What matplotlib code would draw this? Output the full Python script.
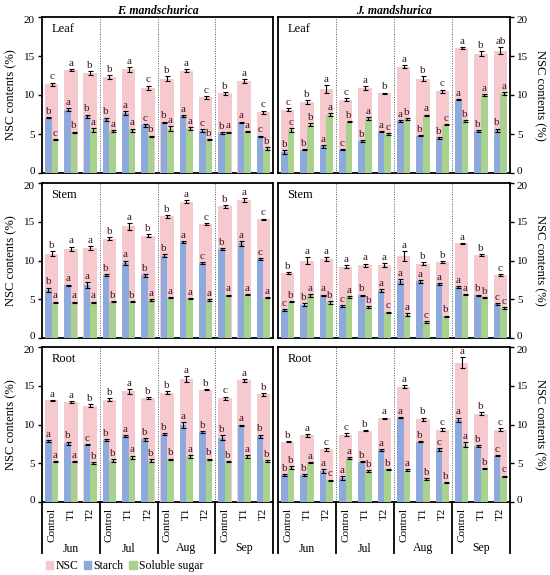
import numpy as np
from matplotlib import pyplot as plt
from matplotlib.patches import Patch
from matplotlib.transforms import ScaledTranslation

plt.rcParams['font.family'] = ['Liberation Serif', 'DejaVu Serif']

# x categories
treatments = ["Control", "T1", "T2"] * 4
months = ["Jun", "Jul", "Aug", "Sep"]
species = ["F. mandschurica", "J. mandshurica"]
organs = ["Leaf", "Stem", "Root"]

# ---- F. mandschurica, Leaf
f_leaf_nsc = [11.4, 13.2, 12.8, 12.3, 13.3, 10.9, 12.1, 13.1, 9.7, 10.2, 11.8, 7.8]
f_leaf_nsc_err = [0.2, 0.1, 0.3, 0.2, 0.3, 0.3, 0.3, 0.2, 0.2, 0.2, 0.2, 0.2]
f_leaf_nsc_let = ["c", "a", "b", "b", "a", "c", "b", "a", "c", "b", "a", "c"]
f_leaf_starch = [7.1, 8.1, 7.3, 6.9, 7.7, 6.1, 6.5, 7.3, 5.4, 5.1, 6.5, 4.7]
f_leaf_starch_err = [0.1, 0.2, 0.2, 0.2, 0.2, 0.2, 0.1, 0.1, 0.2, 0.1, 0.1, 0.1]
f_leaf_starch_let = ["b", "a", "b", "b", "a", "c", "b", "a", "c", "b", "a", "c"]
f_leaf_sugar = [4.3, 5.2, 5.5, 5.4, 5.5, 4.7, 5.7, 5.7, 4.3, 5.2, 5.3, 3.1]
f_leaf_sugar_err = [0.1, 0.1, 0.3, 0.1, 0.2, 0.1, 0.3, 0.2, 0.1, 0.1, 0.1, 0.2]
f_leaf_sugar_let = ["c", "b", "a", "a", "a", "b", "a", "a", "b", "a", "a", "b"]

# ---- F. mandschurica, Stem
f_stem_nsc = [10.9, 11.5, 11.6, 12.8, 14.4, 13.2, 15.7, 17.6, 14.7, 17.0, 17.8, 15.3]
f_stem_nsc_err = [0.3, 0.3, 0.3, 0.2, 0.4, 0.2, 0.2, 0.2, 0.1, 0.2, 0.3, 0.1]
f_stem_nsc_let = ["b", "a", "a", "b", "a", "b", "b", "a", "c", "b", "a", "c"]
f_stem_starch = [6.2, 6.8, 6.8, 8.1, 9.7, 8.1, 10.6, 12.4, 9.7, 11.5, 12.2, 10.2]
f_stem_starch_err = [0.3, 0.1, 0.4, 0.1, 0.3, 0.2, 0.2, 0.1, 0.1, 0.1, 0.3, 0.1]
f_stem_starch_let = ["b", "a", "a", "b", "a", "b", "b", "a", "c", "b", "a", "c"]
f_stem_sugar = [4.6, 4.6, 4.6, 4.7, 4.7, 4.9, 5.2, 5.1, 4.9, 5.5, 5.6, 5.2]
f_stem_sugar_err = [0.1, 0.1, 0.1, 0.1, 0.1, 0.1, 0.1, 0.1, 0.1, 0.1, 0.1, 0.1]
f_stem_sugar_let = ["a", "a", "a", "b", "b", "a", "a", "a", "a", "a", "a", "a"]

# ---- F. mandschurica, Root
f_root_nsc = [13.1, 12.9, 12.4, 13.2, 14.3, 13.4, 14.1, 15.9, 14.5, 13.4, 15.7, 13.9]
f_root_nsc_err = [0.1, 0.1, 0.2, 0.2, 0.3, 0.1, 0.2, 0.4, 0.1, 0.2, 0.2, 0.2]
f_root_nsc_let = ["a", "a", "b", "b", "a", "b", "b", "a", "b", "c", "a", "b"]
f_root_starch = [7.9, 7.6, 7.4, 8.0, 8.5, 8.1, 8.8, 9.9, 9.0, 8.3, 9.9, 8.5]
f_root_starch_err = [0.1, 0.2, 0.1, 0.1, 0.1, 0.2, 0.1, 0.4, 0.1, 0.3, 0.1, 0.2]
f_root_starch_let = ["a", "b", "c", "b", "a", "b", "b", "a", "b", "b", "a", "b"]
f_root_sugar = [5.2, 5.2, 5.0, 5.3, 5.8, 5.3, 5.5, 5.9, 5.5, 5.2, 5.9, 5.3]
f_root_sugar_err = [0.1, 0.1, 0.1, 0.2, 0.2, 0.2, 0.1, 0.2, 0.1, 0.1, 0.2, 0.1]
f_root_sugar_let = ["a", "a", "b", "b", "a", "b", "b", "a", "b", "b", "a", "b"]

# ---- J. mandshurica, Leaf
j_leaf_nsc = [8.1, 9.1, 10.8, 9.4, 10.9, 10.2, 13.6, 12.1, 10.5, 16.0, 15.3, 15.7]
j_leaf_nsc_err = [0.2, 0.2, 0.5, 0.2, 0.2, 0.1, 0.2, 0.3, 0.2, 0.1, 0.3, 0.4]
j_leaf_nsc_let = ["c", "b", "a", "c", "a", "b", "a", "b", "c", "a", "b", "ab"]
j_leaf_starch = [2.7, 3.0, 3.4, 3.0, 4.1, 5.3, 6.7, 4.8, 4.5, 9.4, 5.4, 5.5]
j_leaf_starch_err = [0.2, 0.1, 0.2, 0.1, 0.1, 0.1, 0.1, 0.1, 0.1, 0.1, 0.1, 0.2]
j_leaf_starch_let = ["b", "b", "a", "c", "b", "a", "a", "b", "b", "a", "b", "b"]
j_leaf_sugar = [5.5, 6.2, 7.5, 6.6, 7.0, 5.0, 6.9, 7.4, 6.2, 6.7, 10.0, 10.2]
j_leaf_sugar_err = [0.3, 0.2, 0.2, 0.1, 0.2, 0.1, 0.1, 0.1, 0.1, 0.1, 0.1, 0.2]
j_leaf_sugar_let = ["c", "b", "a", "b", "a", "c", "b", "a", "c", "b", "a", "a"]

# ---- J. mandshurica, Stem
j_stem_nsc = [8.4, 10.0, 10.2, 9.2, 9.4, 9.4, 10.6, 9.6, 9.8, 12.2, 10.7, 8.1]
j_stem_nsc_err = [0.1, 0.4, 0.2, 0.2, 0.2, 0.3, 0.6, 0.2, 0.1, 0.1, 0.1, 0.1]
j_stem_nsc_let = ["b", "a", "a", "a", "a", "a", "a", "b", "b", "a", "b", "c"]
j_stem_starch = [3.6, 4.3, 5.5, 4.1, 5.5, 6.1, 7.3, 7.3, 7.0, 6.6, 5.5, 4.4]
j_stem_starch_err = [0.1, 0.2, 0.1, 0.1, 0.1, 0.2, 0.3, 0.2, 0.1, 0.1, 0.1, 0.1]
j_stem_starch_let = ["c", "b", "a", "c", "b", "a", "a", "a", "a", "a", "b", "c"]
j_stem_sugar = [4.7, 5.5, 4.6, 5.3, 4.0, 3.3, 3.0, 2.1, 2.8, 5.6, 5.2, 3.9]
j_stem_sugar_err = [0.1, 0.2, 0.2, 0.1, 0.1, 0.1, 0.2, 0.1, 0.1, 0.1, 0.1, 0.1]
j_stem_sugar_let = ["b", "a", "b", "a", "b", "c", "a", "c", "b", "a", "b", "c"]

# ---- J. mandshurica, Root
j_root_nsc = [7.8, 8.6, 6.8, 8.7, 9.2, 10.8, 14.9, 10.7, 9.3, 18.0, 11.4, 9.3]
j_root_nsc_err = [0.1, 0.2, 0.2, 0.2, 0.1, 0.1, 0.2, 0.2, 0.2, 0.7, 0.2, 0.2]
j_root_nsc_let = ["b", "a", "c", "c", "b", "a", "a", "b", "c", "a", "b", "c"]
j_root_starch = [3.5, 3.5, 4.0, 3.1, 5.2, 6.7, 10.9, 7.8, 6.8, 10.6, 7.2, 6.0]
j_root_starch_err = [0.1, 0.1, 0.3, 0.2, 0.1, 0.1, 0.1, 0.1, 0.2, 0.3, 0.1, 0.1]
j_root_starch_let = ["b", "b", "a", "a", "b", "a", "a", "b", "c", "a", "b", "c"]
j_root_sugar = [4.4, 5.1, 2.8, 5.7, 4.0, 4.2, 4.1, 3.0, 2.5, 7.4, 4.3, 3.3]
j_root_sugar_err = [0.2, 0.1, 0.1, 0.1, 0.1, 0.1, 0.1, 0.1, 0.1, 0.3, 0.1, 0.1]
j_root_sugar_let = ["b", "a", "c", "a", "b", "b", "a", "b", "b", "a", "b", "c"]

panels = {
    (0, 0): (f_leaf_nsc, f_leaf_nsc_err, f_leaf_nsc_let, f_leaf_starch, f_leaf_starch_err,
             f_leaf_starch_let, f_leaf_sugar, f_leaf_sugar_err, f_leaf_sugar_let),
    (1, 0): (f_stem_nsc, f_stem_nsc_err, f_stem_nsc_let, f_stem_starch, f_stem_starch_err,
             f_stem_starch_let, f_stem_sugar, f_stem_sugar_err, f_stem_sugar_let),
    (2, 0): (f_root_nsc, f_root_nsc_err, f_root_nsc_let, f_root_starch, f_root_starch_err,
             f_root_starch_let, f_root_sugar, f_root_sugar_err, f_root_sugar_let),
    (0, 1): (j_leaf_nsc, j_leaf_nsc_err, j_leaf_nsc_let, j_leaf_starch, j_leaf_starch_err,
             j_leaf_starch_let, j_leaf_sugar, j_leaf_sugar_err, j_leaf_sugar_let),
    (1, 1): (j_stem_nsc, j_stem_nsc_err, j_stem_nsc_let, j_stem_starch, j_stem_starch_err,
             j_stem_starch_let, j_stem_sugar, j_stem_sugar_err, j_stem_sugar_let),
    (2, 1): (j_root_nsc, j_root_nsc_err, j_root_nsc_let, j_root_starch, j_root_starch_err,
             j_root_starch_let, j_root_sugar, j_root_sugar_err, j_root_sugar_let),
}

NSC_COLOR = '#F6C9CE'
STARCH_COLOR = '#8EA9DB'
SUGAR_COLOR = '#A8D18D'
LETTER_COLOR = '#3d1a24'

W, H = 550, 575
fig = plt.figure(figsize=(W / 100, H / 100), dpi=100)

# pixel boxes of the panels
col_x = [(42, 273), (278, 510)]
row_y = [(17, 173), (183, 338), (347, 502)]

x = np.arange(12)
err_kw = dict(ecolor='black', elinewidth=0.8, capsize=1.8, capthick=0.8)


def add_letters(ax, xs, vals, errs, lets):
    for xi, v, e, t in zip(xs, vals, errs, lets):
        ax.text(xi, v + e + 0.15, t, ha='center', va='bottom',
                fontsize=8, color=LETTER_COLOR)


for (r, c), data in panels.items():
    nsc, nsc_e, nsc_l, st, st_e, st_l, su, su_e, su_l = data
    x0, x1 = col_x[c]
    y0, y1 = row_y[r]
    ax = fig.add_axes([x0 / W, 1 - y1 / H, (x1 - x0) / W, (y1 - y0) / H])

    ax.bar(x, nsc, width=0.7, color=NSC_COLOR, zorder=2)
    ax.errorbar(x, nsc, yerr=nsc_e, fmt='none', zorder=4, **err_kw)
    ax.bar(x - 0.17, st, width=0.34, color=STARCH_COLOR, zorder=3)
    ax.errorbar(x - 0.17, st, yerr=st_e, fmt='none', zorder=4, **err_kw)
    ax.bar(x + 0.17, su, width=0.34, color=SUGAR_COLOR, zorder=3)
    ax.errorbar(x + 0.17, su, yerr=su_e, fmt='none', zorder=4, **err_kw)

    add_letters(ax, x, nsc, nsc_e, nsc_l)
    add_letters(ax, x - 0.17, st, st_e, st_l)
    add_letters(ax, x + 0.17, su, su_e, su_l)

    # month separators
    for b in [2.5, 5.5, 8.5]:
        ax.axvline(b, color='#555555', linestyle=(0, (1, 1.5)), linewidth=0.7, zorder=1)

    ax.set_xlim(-0.5, 11.5)
    ax.set_ylim(0, 20)
    ax.set_yticks([0, 5, 10, 15, 20])
    for s in ax.spines.values():
        s.set_linewidth(1.3)
    ax.spines['bottom'].set_zorder(1.5)
    ax.tick_params(axis='y', direction='out', length=3, width=1, labelsize=8, pad=2)
    ax.text(0.04, 0.96, organs[r], transform=ax.transAxes, ha='left', va='top', fontsize=9)

    if c == 1:
        ax.yaxis.tick_right()
        ax.yaxis.set_label_position('right')
        ax.set_ylabel("NSC contents (%)", fontsize=9, rotation=270, labelpad=13)
    else:
        ax.set_ylabel("NSC contents (%)", fontsize=9, labelpad=5)

    # keep the stacked "0" / "20" labels between rows apart
    ylabels = ax.get_yticklabels()
    ylabels[0].set_transform(ylabels[0].get_transform()
                             + ScaledTranslation(0, 1.5 / 72, fig.dpi_scale_trans))
    ylabels[-1].set_transform(ylabels[-1].get_transform()
                              + ScaledTranslation(0, -1.5 / 72, fig.dpi_scale_trans))

    if r == 2:
        ax.set_xticks(x)
        ax.set_xticklabels(treatments, rotation=90, fontsize=8)
        ax.tick_params(axis='x', length=0, pad=4)
        trans = ax.get_xaxis_transform()
        for b in [-0.5, 2.5, 5.5, 8.5, 11.5]:
            ax.plot([b, b], [0, -0.33], transform=trans, color='black',
                    linewidth=1.3, clip_on=False)
        for i, m in enumerate(months):
            ax.text(1 + 3 * i, -0.30, m, transform=trans, ha='center',
                    va='center', fontsize=8.5)
    else:
        ax.set_xticks([])

    if r == 0:
        ax.set_title(species[c], fontsize=8.5, fontweight='bold', style='italic', pad=2)

handles = [Patch(color=NSC_COLOR), Patch(color=STARCH_COLOR), Patch(color=SUGAR_COLOR)]
fig.legend(handles, ["NSC", "Starch", "Soluble sugar"], loc='center left',
           bbox_to_anchor=(40 / W, 1 - 566 / H), ncol=3, frameon=False,
           fontsize=8.5, handlelength=0.6, handleheight=0.6, handletextpad=0.2,
           columnspacing=0.5, borderpad=0)

fig.savefig('out.png', dpi=100)
